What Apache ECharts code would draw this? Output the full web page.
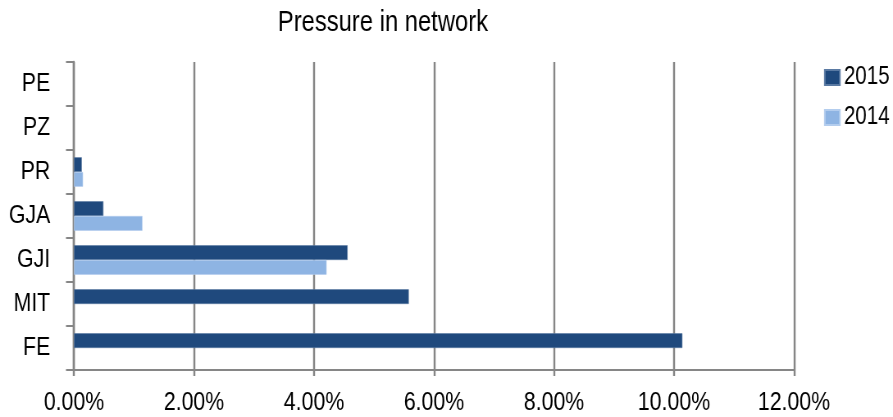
<!DOCTYPE html>
<html>
<head>
<meta charset="utf-8">
<script src="https://cdn.jsdelivr.net/npm/echarts@6/dist/echarts.min.js"></script>
<style>
  html, body { margin: 0; padding: 0; background: #ffffff; overflow: hidden; width: 893px; height: 417px; }
  /* the chart is laid out wide and squeezed horizontally, giving the narrow Arial look */
  #chart { width: 1089px; height: 417px; transform: scaleX(0.82); transform-origin: 0 0; }
</style>
</head>
<body>
<div id="chart"></div>
<script>
// Network segments, listed bottom to top
const categories = ['FE', 'MIT', 'GJI', 'GJA', 'PR', 'PZ', 'PE'];
// Pressure share per segment, in percent
const values2015 = [10.14, 5.58, 4.56, 0.49, 0.13, null, null];
const values2014 = [null, null, 4.21, 1.14, 0.15, null, null];
const xTicks = { min: 0, max: 12, interval: 2 };

const SX = 0.82; // horizontal squeeze applied to the container
const FONT = '"Liberation Sans", Arial, sans-serif';
const DARK = '#1F497D';
const LIGHT = '#8EB4E3';
const GRID = '#868686';

const chart = echarts.init(document.getElementById('chart'), null, { renderer: 'canvas' });

chart.setOption({
  animation: false,
  backgroundColor: '#ffffff',
  title: {
    text: 'Pressure in network',
    left: 462,
    top: 3,
    textAlign: 'center',
    textStyle: { fontFamily: FONT, fontSize: 29, fontWeight: 'normal', color: '#000000' }
  },
  legend: {
    data: ['2015', '2014'],
    orient: 'vertical',
    left: 824 / SX,
    top: 65,
    padding: 0,
    itemWidth: 15 / SX,
    itemHeight: 15,
    itemGap: 15,
    icon: 'rect',
    textStyle: { fontFamily: FONT, fontSize: 25, color: '#000000' }
  },
  grid: { left: 74 / SX, right: 1089 - 794 / SX, top: 62, bottom: 47, containLabel: false },
  xAxis: {
    type: 'value',
    min: xTicks.min,
    max: xTicks.max,
    interval: xTicks.interval,
    axisLine: { show: true, lineStyle: { color: GRID, width: 2 } },
    axisTick: { show: true, length: 6, lineStyle: { color: GRID, width: 2 / SX } },
    splitLine: { show: true, lineStyle: { color: GRID, width: 2 / SX } },
    axisLabel: {
      margin: 20,
      fontFamily: FONT,
      fontSize: 26,
      color: '#000000',
      formatter: v => v.toFixed(2) + '%'
    }
  },
  yAxis: {
    type: 'category',
    data: categories,
    axisLine: { show: true, lineStyle: { color: GRID, width: 2 / SX } },
    axisTick: { show: true, length: 8 / SX, lineStyle: { color: GRID, width: 2 } },
    axisLabel: { margin: 29, fontFamily: FONT, fontSize: 26, color: '#000000' }
  },
  series: [
    {
      name: '2015',
      type: 'bar',
      data: values2015,
      barGap: '0%',
      barCategoryGap: '33%',
      itemStyle: { color: DARK, borderColor: '#5a7aa3', borderWidth: 0.6 }
    },
    {
      name: '2014',
      type: 'bar',
      data: values2014,
      barGap: '0%',
      barCategoryGap: '33%',
      itemStyle: { color: LIGHT, borderColor: '#b3cdee', borderWidth: 0.6 }
    }
  ]
});
</script>
</body>
</html>
